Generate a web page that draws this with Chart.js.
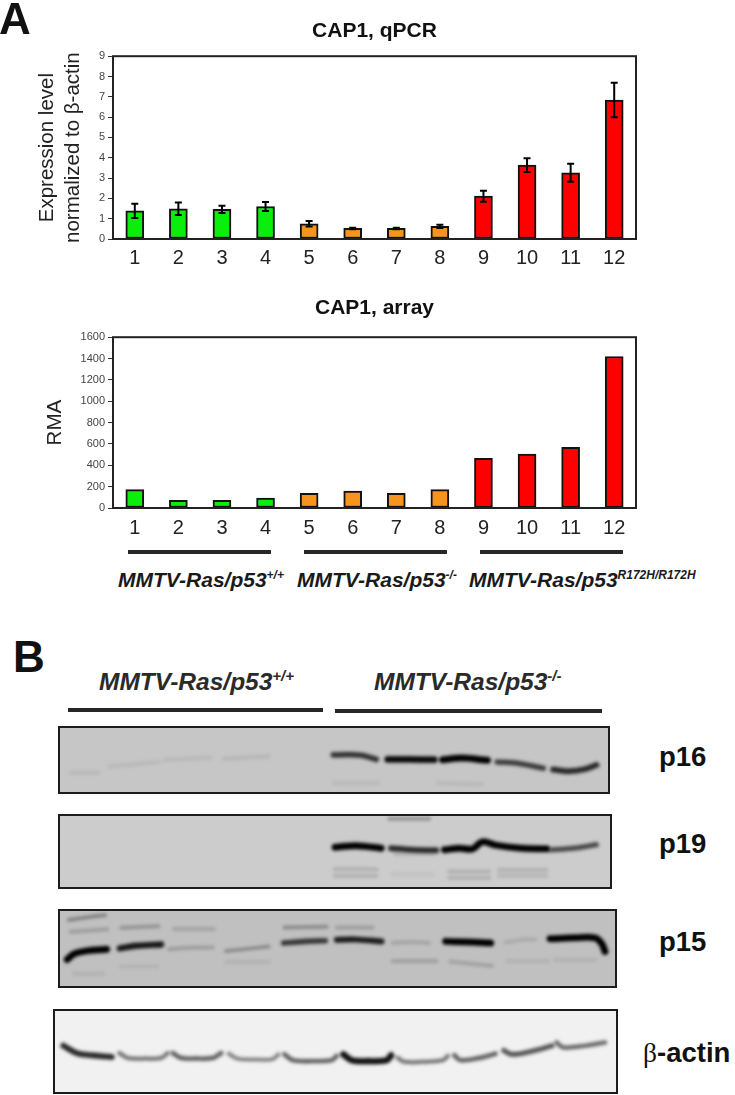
<!DOCTYPE html>
<html>
<head>
<meta charset="utf-8">
<script src="https://cdn.jsdelivr.net/npm/chart.js@4"></script>
<style>
  html, body { margin: 0; padding: 0; background: #fff; }
  body { position: relative; width: 735px; height: 1095px; overflow: hidden; font-family: "Liberation Sans", Arial, sans-serif; color: #111; }
  canvas { position: absolute; }
  .txt { position: absolute; white-space: nowrap; line-height: 1; }
  .geno { font-weight: bold; font-style: italic; font-size: 21px; color: #1a1a1a; }
  .geno sup { font-size: 12px; line-height: 0; vertical-align: 8px; }
  .big { font-size: 24.5px; color: #2a2a2a; }
  .big sup { font-size: 15px; vertical-align: 9px; }
  .rule { position: absolute; height: 4px; background: #262626; }
  .blotName { font-weight: bold; font-size: 27.5px; }
  .gel { position: absolute; box-sizing: border-box; overflow: hidden; border: 2px solid #1c1c1c; }
  .gel canvas { filter: blur(1.5px); left: 0; top: 0; }
</style>
</head>
<body>
<canvas id="qpcrChart" width="735" height="290" style="left:0;top:0"></canvas>
<canvas id="arrayChart" width="735" height="270" style="left:0;top:280px"></canvas>

<div class="txt" style="left:-1px;top:-3px;font-size:44px;font-weight:bold">A</div>
<div class="txt" style="left:13px;top:635px;font-size:44px;font-weight:bold">B</div>

<div class="rule" style="left:128px;top:550px;width:143px"></div>
<div class="rule" style="left:304px;top:550px;width:143px"></div>
<div class="rule" style="left:480px;top:550px;width:143px"></div>
<div class="txt geno" style="left:118px;top:569px">MMTV-Ras/p53<sup>+/+</sup></div>
<div class="txt geno" style="left:297px;top:569px">MMTV-Ras/p53<sup>-/-</sup></div>
<div class="txt geno" style="left:469px;top:569px">MMTV-Ras/p53<sup>R172H/R172H</sup></div>

<div class="txt geno big" style="left:99px;top:670px">MMTV-Ras/p53<sup>+/+</sup></div>
<div class="txt geno big" style="left:374px;top:670px">MMTV-Ras/p53<sup>-/-</sup></div>
<div class="rule" style="left:68px;top:708px;width:255px"></div>
<div class="rule" style="left:335px;top:709px;width:267px"></div>

<div class="gel" style="left:58px;top:726px;width:552px;height:68px;background:#c6c6c6"><canvas id="p16Gel" width="548" height="64"></canvas></div>
<div class="gel" style="left:58px;top:814px;width:554px;height:75px;background:#cccccc"><canvas id="p19Gel" width="550" height="71"></canvas></div>
<div class="gel" style="left:58px;top:909px;width:559px;height:79px;background:#c0c0c0"><canvas id="p15Gel" width="555" height="75"></canvas></div>
<div class="gel" style="left:53px;top:1009px;width:565px;height:85px;background:#f1f1f1"><canvas id="actinGel" width="561" height="81"></canvas></div>

<div class="txt blotName" style="left:659px;top:743px">p16</div>
<div class="txt blotName" style="left:659px;top:830px">p19</div>
<div class="txt blotName" style="left:659px;top:928px">p15</div>
<div class="txt blotName" style="left:643px;top:1039px"><span style="font-family:'Liberation Serif';font-weight:normal">β</span>-actin</div>

<script>
// sample numbers and genotype group of each
var samples = ['1','2','3','4','5','6','7','8','9','10','11','12'];
var groupOf = [0,0,0,0,1,1,1,1,2,2,2,2];
var groupColors = ['#0bee0b','#f7941e','#ff0000'];

// CAP1 qPCR
var qpcrValues = [1.39,1.49,1.46,1.6,0.75,0.52,0.52,0.62,2.11,3.64,3.26,6.84];
var qpcrErrors = [0.35,0.31,0.18,0.22,0.14,0.04,0.04,0.08,0.27,0.34,0.44,0.85];
var qpcrTicks = [0,1,2,3,4,5,6,7,8,9];

// CAP1 array
var arrayValues = [172,72,72,94,137,159,137,172,465,505,568,1419];
var arrayTicks = [0,200,400,600,800,1000,1200,1400,1600];

// blot bands: lane position (0-10), migration (0-100), density (0-1)
var p16Lanes = [[4.99,5.29,5.53,5.77],[5.98,6.38,6.83],[6.98,7.34,7.8],[7.98,8.37,8.82],[9.0,9.28,9.58,9.79],
    [0.9,1.8],[1.9,2.75],[3.0,3.8],[0.2,0.7],[5.0,5.8],[6.9,7.7]];
var p16Migration = [[42,41.7,43.2,49],[49,49,49.6],[49.5,47,50.5],[53,55.4,62.8],[65,67.6,64.2,57.8],
    [60,53],[50,46],[48,44],[70,70],[86,86],[86,88]];
var p16Density = [0.75,0.95,1,0.7,0.8,0.06,0.06,0.07,0.06,0.06,0.06];

var p19Lanes = [[5.0,5.39,5.84],[6.02,6.41,6.84],[6.99,7.26,7.5,7.68,7.92,8.34,8.85],[8.91,9.36,9.75],
    [5.0,5.75],[5.0,5.75],[6.05,6.77],[7.08,7.8],[7.08,7.8],[7.98,8.84],[7.98,8.84],[5.99,6.71],[6.1,6.8]];
var p19Migration = [[44,41.8,45.3],[45.3,47.6,48.4],[47.6,45.3,46.3,36.4,41,45,46.3],[47.6,45.3,40.4],
    [75,75],[84,84],[82,82],[78,78],[87,87],[76,76],[84,84],[4,4],[53,53]];
var p19Density = [1,0.8,1,0.65,0.12,0.12,0.05,0.12,0.12,0.12,0.1,0.24,0.12];

var p15Lanes = [[0.13,0.25,0.48,0.84],[1.08,1.38,1.82],[1.97,2.33,2.75],[2.99,3.35,3.76],[4.03,4.42,4.78],[4.99,5.34,5.79],[6.0,6.3,6.65],[6.95,7.37,7.76],[8.03,8.32,8.56],[8.83,9.28,9.64,9.76,9.82],
    [0.16,0.48,0.81],[0.2,0.85],[1.11,1.77],[2.06,2.77],[4.05,4.8],[4.99,5.63],[6.0,6.78],[7.04,7.78],[8.06,8.78],[8.92,9.64],[0.25,0.78],[1.1,1.75],[3.0,3.76]];
var p15Migration = [[64.6,57.4,53.2,51],[49.8,46.4,44.7],[51,49,48.5],[53.2,50.6,47.2],[42.7,40.5,39.6],[38.4,38,40.5],[42.7,41.4,42.7],[40.5,41.4,42.7],[42,38.4,38],[37,35.8,35.8,43.4,54],
    [11.8,8.5,5.4],[27.8,24.4],[22.4,20.2],[24,24],[22,21],[22,22],[66.7,66.7],[67.5,73],[66.7,66.7],[65,65],[83.5,83.5],[74,74],[68,68]];
var p15Density = [1,0.88,0.16,0.3,0.72,0.85,0.13,1,0.1,1,
    0.34,0.16,0.2,0.13,0.24,0.16,0.15,0.14,0.07,0.07,0.07,0.06,0.07];

var actinLanes = [[0.15,0.39,0.68,1.01],[1.15,1.3,1.63,1.89,2.01],[2.1,2.25,2.51,2.81,2.96],[3.1,3.25,3.58,3.87,3.98],[4.09,4.24,4.58,4.93,5.02],
    [5.14,5.29,5.58,5.91,5.99],[6.11,6.23,6.55,6.91,7.0],[7.12,7.23,7.56,7.85],[8.0,8.15,8.5,8.86],[8.94,9.06,9.45,9.8]];
var actinMigration = [[42.9,52,54.8,56.8],[52,58,58.7,58,52],[52,58,58.7,58,52],[52.8,58.7,59.9,59.5,53.9],[53.6,60.7,61.9,60.7,55.6],
    [53.6,60.7,61.9,60.7,54.8],[58,62.7,62.7,60.7,55.6],[54.8,60.7,58,52.8],[48.8,53.6,49.6,42.9],[38.9,44.9,42.9,38.9]];
var actinDensity = [0.82,0.5,0.58,0.45,0.58,0.92,0.5,0.58,0.64,0.55];

function drawBarChart(id, values, ticks, yTitle, title, errors, opts) {
    var frame = {
        id: 'frame',
        afterDatasetsDraw: function (chart) {
            var c = chart.ctx, a = chart.chartArea;
            c.save();
            if (errors) {
                var x = chart.scales.x, y = chart.scales.y;
                c.strokeStyle = '#000';
                c.lineWidth = 2;
                for (var i = 0; i < values.length; i++) {
                    var px = x.getPixelForValue(i);
                    var up = y.getPixelForValue(values[i] + errors[i]);
                    var dn = y.getPixelForValue(values[i] - errors[i]);
                    c.beginPath();
                    c.moveTo(px, up); c.lineTo(px, dn);
                    c.moveTo(px - 3.5, up); c.lineTo(px + 3.5, up);
                    c.moveTo(px - 3.5, dn); c.lineTo(px + 3.5, dn);
                    c.stroke();
                }
            }
            c.strokeStyle = '#222';
            c.lineWidth = 2;
            c.strokeRect(a.left, a.top, a.right - a.left, a.bottom - a.top);
            c.restore();
        }
    };
    new Chart(document.getElementById(id), {
        type: 'bar',
        data: {
            labels: samples,
            datasets: [{
                data: values,
                backgroundColor: groupOf.map(function (g) { return groupColors[g]; }),
                borderColor: '#111',
                borderWidth: 2,
                borderSkipped: false,
                barThickness: 18
            }]
        },
        options: {
            responsive: false,
            animation: false,
            layout: { padding: { right: 99 } },
            plugins: {
                legend: { display: false },
                tooltip: { enabled: false },
                title: {
                    display: true,
                    text: title,
                    fullSize: false,
                    color: '#111',
                    font: { family: '"Liberation Sans"', size: 21, weight: 'bold' },
                    padding: opts.titlePadding
                }
            },
            scales: {
                x: {
                    grid: { display: false, drawTicks: false },
                    border: { display: false },
                    ticks: {
                        color: '#222',
                        padding: opts.xPad,
                        maxRotation: 0,
                        font: { family: '"Liberation Sans"', size: 20 }
                    },
                    afterFit: function (s) { s.height = opts.xHeight; }
                },
                y: {
                    min: ticks[0],
                    max: ticks[ticks.length - 1],
                    afterBuildTicks: function (s) { s.ticks = ticks.map(function (v) { return { value: v }; }); },
                    grid: { drawOnChartArea: false, tickLength: 5, color: '#333' },
                    border: { display: false },
                    ticks: {
                        color: '#444',
                        padding: 3,
                        callback: function (v) { return String(v); },
                        font: { family: '"Liberation Sans"', size: 11 }
                    },
                    title: {
                        display: true,
                        text: yTitle,
                        color: '#222',
                        font: { family: '"Liberation Sans"', size: 20.5, lineHeight: 1.25 },
                        padding: { top: opts.yTitleTop, bottom: 0 }
                    },
                    afterFit: function (s) { s.width = 113; }
                }
            }
        },
        plugins: [frame]
    });
}

drawBarChart('qpcrChart', qpcrValues, qpcrTicks,
    ['Expression level', 'normalized to β-actin'], 'CAP1, qPCR', qpcrErrors,
    { xHeight: 51, xPad: 7, yTitleTop: 35, titlePadding: { top: 19, bottom: 12 } });

drawBarChart('arrayChart', arrayValues, arrayTicks,
    'RMA', 'CAP1, array', null,
    { xHeight: 42, xPad: 8, yTitleTop: 43, titlePadding: { top: 16, bottom: 16 } });

function drawGel(id, lanes, migration, density, bg) {
    var sets = [];
    lanes.forEach(function (l, i) {
        var d = density[i];
        var pts = l.map(function (v, j) { return { x: v, y: migration[i][j] }; });
        var g = Math.round(bg * (1 - d));
        var width = d < 0.3 ? 4.5 : 0.5 + 5 * d;
        sets.push({
            data: pts, showLine: true, tension: 0.35, pointRadius: 0, borderCapStyle: 'round',
            borderColor: 'rgb(' + g + ',' + g + ',' + g + ')', borderWidth: width
        });
        // soft edge round the stronger bands
        if (d >= 0.3) {
            var h = Math.round(bg * (1 - d * 0.45));
            sets.push({
                data: pts, showLine: true, tension: 0.35, pointRadius: 0, borderCapStyle: 'round',
                borderColor: 'rgb(' + h + ',' + h + ',' + h + ')', borderWidth: width + 3
            });
        }
    });
    new Chart(document.getElementById(id), {
        type: 'scatter',
        data: { datasets: sets },
        options: {
            responsive: false,
            animation: false,
            plugins: { legend: { display: false }, tooltip: { enabled: false } },
            scales: {
                x: { display: false, min: 0, max: 10 },
                y: { display: false, min: 0, max: 100, reverse: true }
            }
        }
    });
}

drawGel('p16Gel', p16Lanes, p16Migration, p16Density, 198);
drawGel('p19Gel', p19Lanes, p19Migration, p19Density, 204);
drawGel('p15Gel', p15Lanes, p15Migration, p15Density, 192);
drawGel('actinGel', actinLanes, actinMigration, actinDensity, 241);
</script>
</body>
</html>
